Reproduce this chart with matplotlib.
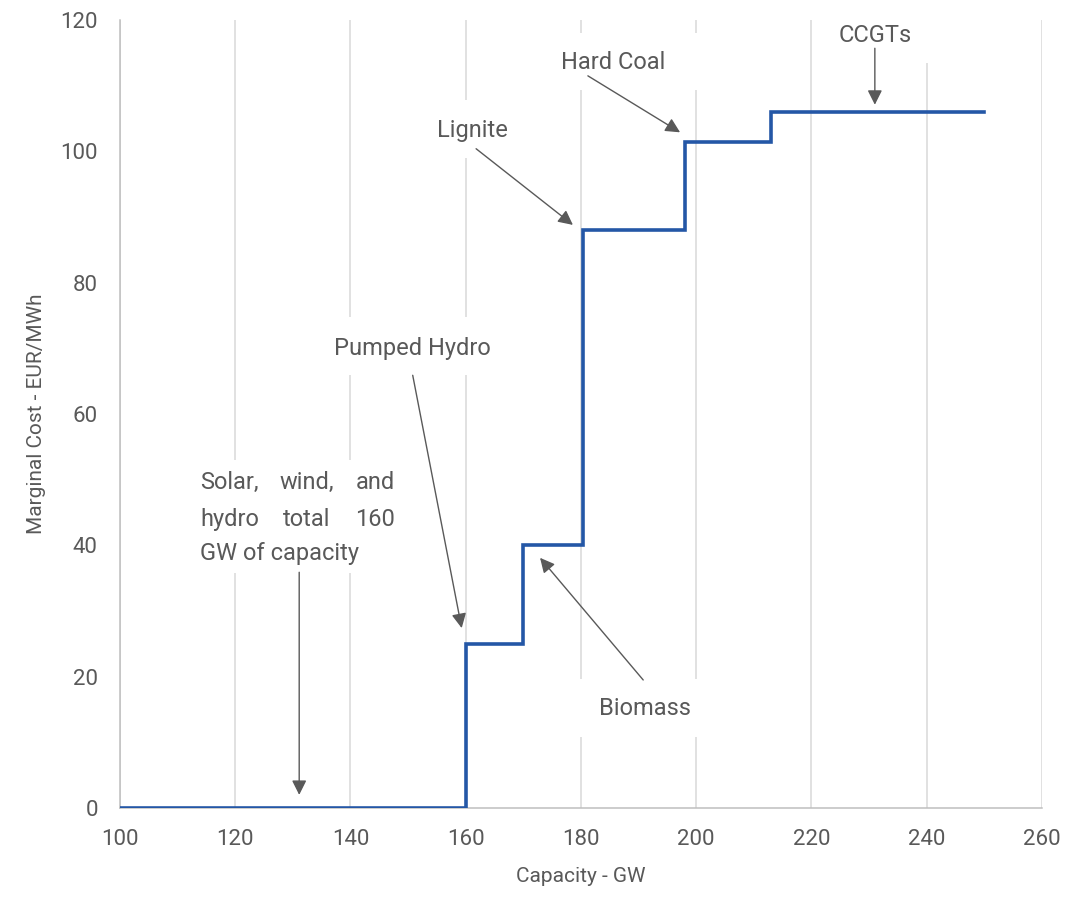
import matplotlib
matplotlib.use("Agg")
import matplotlib.pyplot as plt
from matplotlib.patches import Rectangle

plt.rcParams["font.family"] = ["Roboto", "DejaVu Sans"]

# Merit order: capacity where each step starts (GW) and its marginal cost (EUR/MWh)
capacity = [100, 160, 170, 180.4, 198.1, 213, 250]
marginal_cost = [0, 25, 40, 88, 101.5, 106, 106]

x_ticks = [100, 120, 140, 160, 180, 200, 220, 240, 260]
y_ticks = [0, 20, 40, 60, 80, 100, 120]

TEXT = "#595959"
LINE = "#2457A6"
GRID = "#d9d9d9"

fig = plt.figure(figsize=(10.83, 8.98), dpi=100)
ax = fig.add_axes([0.1108, 0.1002, 0.8513, 0.8775])

ax.step(capacity, marginal_cost, where="post", color=LINE, lw=2.6,
        solid_joinstyle="miter", zorder=4)

ax.set_xlim(100, 260)
ax.set_ylim(0, 120)
ax.set_xticks(x_ticks)
ax.set_yticks(y_ticks)
ax.tick_params(length=0, labelsize=16, labelcolor=TEXT)
ax.tick_params(axis="x", pad=15)
ax.tick_params(axis="y", pad=16)
ax.grid(axis="x", color=GRID, lw=1.1, zorder=0)
ax.set_axisbelow(True)
for side in ["top", "right"]:
    ax.spines[side].set_visible(False)
for side in ["left", "bottom"]:
    ax.spines[side].set_color("#bfbfbf")
    ax.spines[side].set_linewidth(1.1)

ax.set_xlabel("Capacity - GW", fontsize=15, color=TEXT, labelpad=12)
ax.set_ylabel("Marginal Cost - EUR/MWh", fontsize=15, color=TEXT, labelpad=10)

arrow = dict(arrowstyle="-|>", color=TEXT, lw=1.0, mutation_scale=22,
             shrinkA=0, shrinkB=0)


def text_box(x0, x1, y0, y1):
    # white fill behind a callout so the gridlines break around it
    ax.add_patch(Rectangle((x0, y0), x1 - x0, y1 - y0, facecolor="white",
                           edgecolor="none", zorder=2, clip_on=False))


def callout(text, pos, tail, head, extent):
    text_box(*extent)
    ax.text(pos[0], pos[1], text, fontsize=17, color=TEXT, ha="center",
            va="center", zorder=3)
    ax.annotate("", xy=head, xytext=tail, arrowprops=arrow, zorder=3)


callout("Pumped Hydro", (150.8, 70.0), (150.8, 65.9), (159.3, 27.4),
        (135.6, 165.9, 65.9, 74.8))
callout("Biomass", (191.1, 15.1), (190.8, 19.5), (172.9, 38.1),
        (179.0, 201.5, 10.8, 19.6))
callout("Lignite", (161.1, 103.2), (161.8, 100.4), (178.6, 88.8),
        (152.1, 169.4, 99.0, 107.8))
callout("Hard Coal", (185.6, 113.6), (181.2, 111.5), (197.2, 102.9),
        (178.0, 201.0, 109.3, 118.0))
callout("CCGTs", (231.0, 117.6), (231.0, 115.7), (231.0, 107.1),
        (220.6, 241.4, 113.4, 120.0))

# Justified multi-line note for the zero-cost renewables block
note_lines = [["Solar,", "wind,", "and"], ["hydro", "total", "160"],
              ["GW", "of", "capacity"]]
note_left, note_right = 113.9, 147.7
note_y = [49.6, 44.0, 38.7]
text_box(113.0, 148.6, 35.8, 53.0)
fig.canvas.draw()
renderer = fig.canvas.get_renderer()
inv = ax.transData.inverted()
for i, (words, y) in enumerate(zip(note_lines, note_y)):
    if i == len(note_lines) - 1:
        ax.text(note_left, y, " ".join(words), fontsize=17, color=TEXT,
                ha="left", va="center", zorder=3)
        continue
    widths = []
    for w in words:
        t = ax.text(0, 0, w, fontsize=17)
        bb = t.get_window_extent(renderer)
        t.remove()
        x0 = inv.transform((bb.x0, 0))[0]
        x1 = inv.transform((bb.x1, 0))[0]
        widths.append(x1 - x0)
    gap = (note_right - note_left - sum(widths)) / (len(words) - 1)
    x = note_left
    for w, wd in zip(words, widths):
        ax.text(x, y, w, fontsize=17, color=TEXT, ha="left", va="center",
                zorder=3)
        x += wd + gap
ax.annotate("", xy=(131.1, 2.0), xytext=(131.1, 35.9), arrowprops=arrow,
            zorder=3)

fig.savefig("out.png", dpi=100)
